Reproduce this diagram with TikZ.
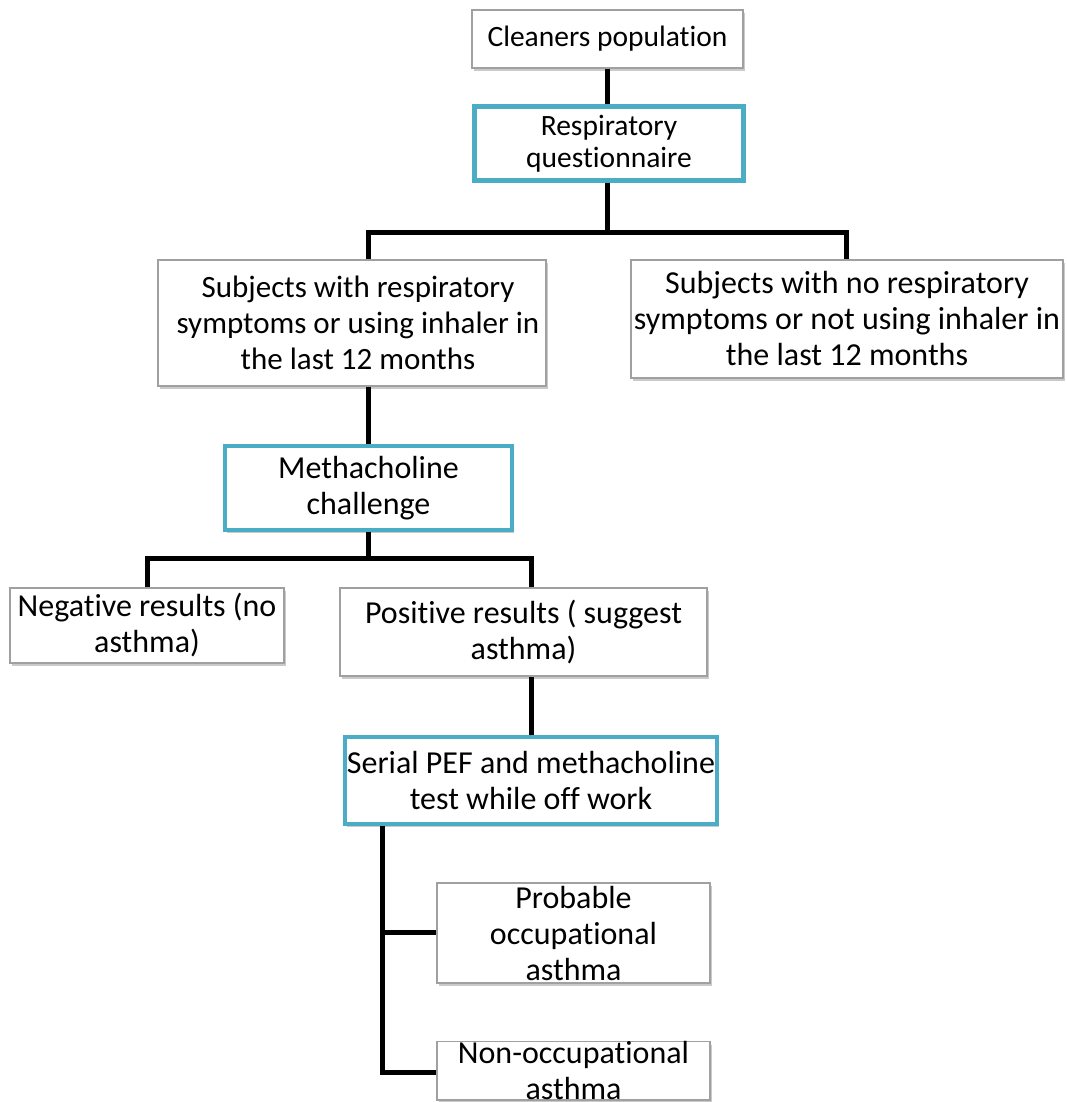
\documentclass[tikz,border=0pt]{standalone}
\usepackage{fontspec}
\setmainfont{Carlito}[RawFeature={-liga;-clig;-calt;-dlig;-rlig}]
\usetikzlibrary{shadows}
\definecolor{accent}{HTML}{4BACC6}
\definecolor{boxline}{HTML}{A0A0A0}
\tikzset{
  base/.style={rectangle, align=center, fill=white, inner sep=1pt,
    font=\fontsize{32}{36}\selectfont,
    drop shadow={shadow xshift=2pt, shadow yshift=-3pt, opacity=0.35, fill=black!60}},
  smalltext/.style={font=\fontsize{29.5}{32}\selectfont},
  plainbox/.style={base, draw=boxline, line width=1.2pt},
  keybox/.style={base, draw=accent, line width=4.5pt},
  conn/.style={draw=black, line width=5pt}
}
\begin{document}
\begin{tikzpicture}[x=1pt,y=-1pt]
\useasboundingbox (0,0) rectangle (1067,1102);
\clip (0,0) rectangle (1067,1102);

% junction points of the branching connectors
\coordinate (j1l) at (368,232);
\coordinate (j1r) at (846,232);
\coordinate (j2l) at (147,558);
\coordinate (j2r) at (531,558);
\coordinate (t1) at (382,932);
\coordinate (t2) at (382,1072);

% boxes
\node[plainbox, smalltext, minimum width=271pt, minimum height=58pt] (pop) at (607.5,39) {Cleaners population};
\node[keybox, smalltext, minimum width=269pt, minimum height=74pt] (quest) at (609,143.5) {Respiratory\\questionnaire};
\node[plainbox, font=\fontsize{31}{36}\selectfont, minimum width=388pt, minimum height=126pt] (symp) at (352,323) {\hspace*{12pt}Subjects with respiratory\\\hspace*{12pt}symptoms or using inhaler in\\\hspace*{12pt}the last 12 months};
\node[plainbox, minimum width=432pt, minimum height=118pt] (nosymp) at (847,319) {Subjects with no respiratory\\symptoms or not using inhaler in\\the last 12 months};
\node[keybox, minimum width=287pt, minimum height=84pt] (mch) at (368.5,488) {Methacholine\\challenge};
\node[plainbox, minimum width=274pt, minimum height=75pt] (neg) at (147,625.5) {Negative results (no\\asthma)};
\node[plainbox, minimum width=367pt, minimum height=88pt] (pos) at (523.5,632) {Positive results ( suggest\\asthma)};
\node[keybox, minimum width=372pt, minimum height=87pt] (pef) at (531,780.5) {Serial PEF and methacholine\\test while off work};
\node[plainbox, minimum width=273pt, minimum height=100pt] (prob) at (573.5,933) {Probable\\occupational\\asthma};
\node[plainbox, minimum width=273pt, inner ysep=0pt, anchor=north] (nonocc) at (573.5,1041) {Non-occupational\\asthma};

% connectors
\draw[conn] (pop.south) -- (quest.north -| pop.south);
\draw[conn] (quest.south -| pop.south) -- (pop.south |- j1l);
\draw[conn] (j1l |- symp.north) -- (j1l) -- (j1r) -- (j1r |- nosymp.north);
\draw[conn] (mch.north -| j1l) -- (j1l |- symp.south);
\draw[conn] (mch.south -| j1l) -- (j1l |- j2l);
\draw[conn] (neg.north) -- (j2l) -- (j2r) -- (j2r |- pos.north);
\draw[conn] (pef.north -| j2r) -- (j2r |- pos.south);
\draw[conn] (t1 |- pef.south) -- (t2) -- (nonocc.west |- t2);
\draw[conn] (t1) -- (prob.west |- t1);
\end{tikzpicture}
\end{document}
